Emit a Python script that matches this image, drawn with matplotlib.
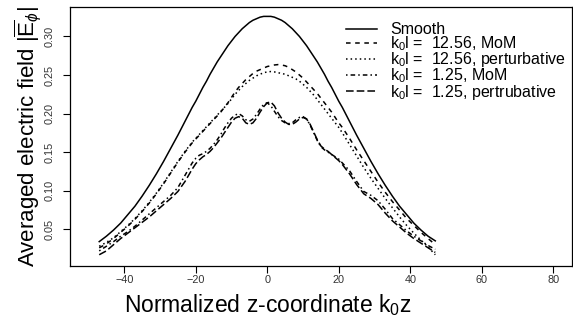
import matplotlib
matplotlib.use("Agg")
import matplotlib.pyplot as plt
import numpy as np

plt.rcParams['font.family'] = ['Liberation Sans', 'DejaVu Sans']
plt.rcParams['mathtext.fontset'] = 'custom'
plt.rcParams['mathtext.rm'] = 'Liberation Sans'
plt.rcParams['mathtext.it'] = 'Liberation Sans:italic'

# sample positions along normalized z (coarser in the tails)
z = np.r_[np.arange(-47, -20, 2), np.arange(-20, 21), np.arange(21, 48, 2)]

smooth = [0.034, 0.041, 0.049, 0.058, 0.069, 0.080, 0.093, 0.107, 0.122, 0.138, 0.155, 0.172, 0.190, 0.208,
          0.216, 0.225, 0.234, 0.242, 0.251, 0.259, 0.267, 0.274, 0.281, 0.288,
          0.294, 0.300, 0.305, 0.310, 0.314, 0.318, 0.321, 0.323, 0.325, 0.326,
          0.326,
          0.326, 0.325, 0.323, 0.321, 0.318, 0.314, 0.310, 0.305, 0.300, 0.294,
          0.288, 0.281, 0.274, 0.267, 0.259, 0.251, 0.242, 0.234, 0.225, 0.216,
          0.208, 0.190, 0.172, 0.155, 0.138, 0.122, 0.107, 0.093, 0.080, 0.069, 0.058, 0.049, 0.041, 0.035]

mom_1256 = [0.026, 0.031, 0.038, 0.046, 0.054, 0.063, 0.073, 0.084, 0.096, 0.109, 0.123, 0.137, 0.150, 0.162,
            0.167, 0.172, 0.177, 0.182, 0.187, 0.192, 0.197, 0.202, 0.208, 0.214,
            0.221, 0.228, 0.234, 0.239, 0.244, 0.248, 0.252, 0.255, 0.257, 0.259,
            0.261,
            0.262, 0.263, 0.2635, 0.263, 0.262, 0.260, 0.257, 0.254, 0.250, 0.246,
            0.241, 0.236, 0.231, 0.226, 0.220, 0.214, 0.208, 0.202, 0.195, 0.188,
            0.182, 0.168, 0.153, 0.139, 0.125, 0.111, 0.098, 0.086, 0.075, 0.064, 0.055, 0.046, 0.038, 0.030]

pert_1256 = [0.028, 0.033, 0.039, 0.047, 0.055, 0.064, 0.074, 0.085, 0.097, 0.110, 0.124, 0.138, 0.151, 0.163,
             0.168, 0.173, 0.178, 0.183, 0.188, 0.193, 0.198, 0.203, 0.208, 0.213,
             0.219, 0.225, 0.230, 0.235, 0.239, 0.243, 0.246, 0.249, 0.251, 0.253,
             0.254,
             0.2545, 0.254, 0.253, 0.252, 0.251, 0.249, 0.247, 0.245, 0.242, 0.238,
             0.234, 0.229, 0.224, 0.218, 0.212, 0.206, 0.200, 0.194, 0.188, 0.182,
             0.175, 0.160, 0.145, 0.130, 0.116, 0.103, 0.090, 0.078, 0.066, 0.055, 0.045, 0.036, 0.027, 0.017]

mom_125 = [0.022, 0.028, 0.034, 0.041, 0.047, 0.054, 0.062, 0.070, 0.078, 0.086, 0.094, 0.104, 0.120, 0.136,
           0.142, 0.146, 0.148, 0.151, 0.155, 0.160, 0.166, 0.173, 0.181, 0.188,
           0.194, 0.198, 0.200, 0.197, 0.192, 0.190, 0.193, 0.199, 0.206, 0.212,
           0.214,
           0.210, 0.203, 0.196, 0.191, 0.188, 0.187, 0.188, 0.192, 0.195, 0.196,
           0.193, 0.185, 0.175, 0.165, 0.157, 0.153, 0.150, 0.147, 0.144, 0.141,
           0.136, 0.126, 0.112, 0.099, 0.094, 0.087, 0.076, 0.064, 0.056, 0.048, 0.041, 0.035, 0.029, 0.024]

pert_125 = [0.017, 0.022, 0.030, 0.038, 0.045, 0.052, 0.059, 0.066, 0.074, 0.082, 0.090, 0.099, 0.112, 0.128,
            0.135, 0.140, 0.144, 0.147, 0.151, 0.156, 0.162, 0.168, 0.175, 0.182,
            0.189, 0.194, 0.196, 0.194, 0.188, 0.186, 0.188, 0.194, 0.202, 0.209,
            0.214,
            0.215, 0.210, 0.201, 0.194, 0.189, 0.186, 0.186, 0.189, 0.193, 0.195,
            0.193, 0.186, 0.176, 0.166, 0.158, 0.154, 0.151, 0.147, 0.143, 0.139,
            0.134, 0.122, 0.108, 0.096, 0.090, 0.082, 0.071, 0.061, 0.053, 0.045, 0.038, 0.032, 0.026, 0.020]

labels = ['Smooth',
          r'k$_0$l =  12.56, MoM',
          r'k$_0$l =  12.56, perturbative',
          r'k$_0$l =  1.25, MoM',
          r'k$_0$l =  1.25, pertrubative']

fig = plt.figure(figsize=(5.73, 3.25), dpi=100)
ax = fig.add_axes([0.122, 0.182, 0.876, 0.797])

lw = 1.1
ax.plot(z, smooth, color='black', lw=lw, ls='-', label=labels[0])
ax.plot(z, mom_1256, color='black', lw=lw, ls=(0, (3, 3)), label=labels[1])
ax.plot(z, pert_1256, color='black', lw=lw, ls=(0, (1, 2)), label=labels[2])
ax.plot(z, mom_125, color='black', lw=lw, ls=(0, (1, 2, 3, 2)), label=labels[3])
ax.plot(z, pert_125, color='black', lw=lw, ls=(0, (5, 2)), label=labels[4])

ax.set_xlim(-55.2, 85.2)
ax.set_ylim(0.0026, 0.3384)
ax.set_xticks([-40, -20, 0, 20, 40, 60, 80])
ax.set_yticks([0.05, 0.10, 0.15, 0.20, 0.25, 0.30])
ax.set_yticklabels(['0.05', '0.10', '0.15', '0.20', '0.25', '0.30'], rotation=90, va='center')
ax.tick_params(direction='out', length=5, width=0.8, labelsize=7.8, colors='black', labelcolor='#333333')
ax.tick_params(axis='x', pad=1.5)
ax.tick_params(axis='y', pad=6)

for s in ax.spines.values():
    s.set_linewidth(0.9)

ax.set_xlabel('Normalized z-coordinate k$_0$z', fontsize=16.5, labelpad=5)
ax.xaxis.label.set_x(0.394)
ax.set_ylabel(r'Averaged electric field |$\overline{\mathrm{E}}_{\phi}$|', fontsize=16, labelpad=1)

ax.legend(loc='upper left', bbox_to_anchor=(0.527, 0.984), frameon=False, fontsize=11.5,
          handlelength=1.94, handletextpad=0.85, labelspacing=-0.17, borderpad=0.2)

fig.savefig('out.png', dpi=100)
